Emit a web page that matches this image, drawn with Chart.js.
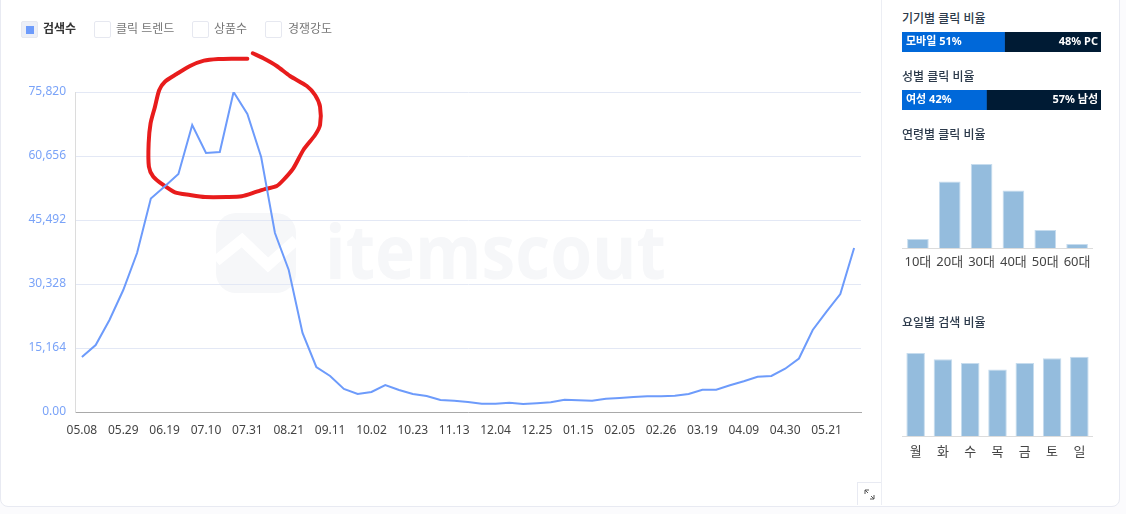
<!DOCTYPE html>
<html lang="ko">
<head>
<meta charset="utf-8">
<title>검색수 트렌드</title>
<script src="https://cdn.jsdelivr.net/npm/chart.js@4"></script>
<style>
    html, body { margin: 0; padding: 0; width: 1126px; height: 514px; overflow: hidden; background: #fbfbfd; }
    body, canvas { font-family: "Noto Sans", "Noto Sans CJK KR", sans-serif; }
    .card { position: absolute; left: 0; top: -10px; width: 1118px; height: 515px; background: #fff; border: 1px solid #e8eaf2; border-radius: 8px; }
    .divider { position: absolute; left: 881px; top: 0; width: 1px; height: 505px; background: #eceef4; }
    .mark { position: absolute; left: 0; top: 0; }
    canvas { position: absolute; }
    .box { position: absolute; top: 21px; width: 15px; height: 15px; border: 1px solid #e6e8f0; border-radius: 2px; background: #fff; }
    .box.on { background: #eceff7; }
    .box.on::after { content: ""; position: absolute; left: 4px; top: 4px; width: 8px; height: 8px; background: #6d9bfb; }
    .legend { position: absolute; top: 20px; font-size: 12px; line-height: 17px; color: #777; }
    .legend.on { color: #333; font-weight: 700; }
    .title { position: absolute; left: 902px; font-size: 12px; line-height: 16px; font-weight: 500; color: #2c3a4b; }
    .inbar { position: absolute; font-size: 11px; line-height: 20px; font-weight: 700; color: #fff; }
    .expand { position: absolute; left: 857px; top: 482px; width: 24px; height: 23px; border-top: 1px solid #e8eaf2; border-left: 1px solid #e8eaf2; box-sizing: border-box; }
</style>
</head>
<body>
<div class="card"></div>
<div class="divider"></div>

<!-- filigrane -->
<svg class="mark" width="880" height="480">
    <rect x="216" y="213" width="80" height="80" rx="20" fill="#f6f7f9"/>
    <path d="M216 261 L242 240 L268 265 L296 240" fill="none" stroke="#fff" stroke-width="11"/>
    <text x="325" y="279" font-family="Open Sans" font-weight="700" font-size="76" fill="#f6f7f9" textLength="341" lengthAdjust="spacingAndGlyphs">itemscout</text>
</svg>

<div class="box on" style="left:21px"></div><div class="legend on" style="left:43px">검색수</div>
<div class="box" style="left:94px"></div><div class="legend" style="left:116px">클릭 트렌드</div>
<div class="box" style="left:192px"></div><div class="legend" style="left:214px">상품수</div>
<div class="box" style="left:265px"></div><div class="legend" style="left:288px">경쟁강도</div>

<canvas id="chartTrend" width="880" height="480" style="left:0;top:0"></canvas>

<div class="title" style="top:11px">기기별 클릭 비율</div>
<canvas id="chartDevice" width="199" height="20" style="left:902px;top:32px"></canvas>
<div class="inbar" id="deviceLeft" style="left:906px;top:31px"></div>
<div class="inbar" id="deviceRight" style="right:28px;top:31px"></div>

<div class="title" style="top:69px">성별 클릭 비율</div>
<canvas id="chartGender" width="199" height="20" style="left:902px;top:90px"></canvas>
<div class="inbar" id="genderLeft" style="left:906px;top:89px"></div>
<div class="inbar" id="genderRight" style="right:28px;top:89px"></div>

<div class="title" style="top:127px">연령별 클릭 비율</div>
<canvas id="chartAge" width="191" height="125" style="left:902px;top:150px"></canvas>

<div class="title" style="top:315px">요일별 검색 비율</div>
<canvas id="chartDay" width="191" height="125" style="left:902px;top:340px"></canvas>

<div class="expand">
    <svg width="23" height="22"><path d="M7 7 L10 10 M7 7 h4 M7 7 v4 M16 16 L13 13 M16 16 h-4 M16 16 v-4" fill="none" stroke="#555" stroke-width="1"/></svg>
</div>

<script>
// === Données ===
const weeks = ['05.08','05.15','05.22','05.29','06.05','06.12','06.19','06.26','07.03','07.10',
    '07.17','07.24','07.31','08.07','08.14','08.21','08.28','09.04','09.11','09.18',
    '09.25','10.02','10.09','10.16','10.23','10.30','11.06','11.13','11.20','11.27',
    '12.04','12.11','12.18','12.25','01.01','01.08','01.15','01.22','01.29','02.05',
    '02.12','02.19','02.26','03.05','03.12','03.19','03.26','04.02','04.09','04.16',
    '04.23','04.30','05.07','05.14','05.21','05.28','06.04'];
const searchCounts = [13032,15875,21798,28907,37673,50587,53430,56392,68002,61367,
    61604,75820,70608,60420,42412,33645,18718,10662,8530,5450,
    4265,4739,6397,5213,4265,3791,2843,2677,2369,1967,
    1967,2204,1896,2061,2298,2914,2772,2677,3151,3317,
    3554,3720,3720,3862,4265,5284,5284,6326,7274,8364,
    8530,10260,12676,19429,23765,27959,38858];
const yTicks = [0, 15164, 30328, 45492, 60656, 75820];
const yTickLabels = ['0.00', '15,164', '30,328', '45,492', '60,656', '75,820'];

// Trait rouge dessiné à la main sur la capture (index de semaine, valeur)
const scribbleWeek = [12.0,10.98,9.89,8.85,7.84,6.87,6.02,5.61,5.3,4.98,4.84,4.86,5.18,5.9,6.75,7.84,8.93,
    10.5,11.59,12.68,13.4,14.13,14.61,15.33,16.06,16.91,17.27,17.27,16.91,16.31,15.09,14.13,13.16,12.39];
const scribbleValue = [83720,83720,83640,83240,81980,80090,78270,76300,72340,68400,63670,58120,55750,53790,52050,51420,50940,
    50940,51110,52200,52910,53550,54970,57740,62080,65630,68000,72340,75110,77240,79610,81980,83800,84990];

const deviceLabels = ['모바일', 'PC'];
const deviceShares = [51, 48];
const genderLabels = ['여성', '남성'];
const genderShares = [42, 57];

const ageLabels = ['10대', '20대', '30대', '40대', '50대', '60대'];
const ageShares = [3.8, 27.7, 35, 24, 7.5, 1.7];
const dayLabels = ['월', '화', '수', '목', '금', '토', '일'];
const dayShares = [15.7, 14.5, 13.8, 12.6, 13.8, 14.7, 15];

const fontFamily = '"Noto Sans", "Noto Sans CJK KR", sans-serif';
Chart.defaults.font.family = fontFamily;
Chart.defaults.font.size = 12;
Chart.defaults.animation = false;
Chart.defaults.responsive = false;
Chart.defaults.plugins.legend.display = false;
Chart.defaults.plugins.tooltip.enabled = false;

// === Courbe principale ===
new Chart(document.getElementById('chartTrend'), {
    type: 'line',
    data: {
        labels: weeks,
        datasets: [
            {
                label: '검색수',
                data: searchCounts,
                borderColor: '#6d9bfb',
                borderWidth: 2,
                pointRadius: 0,
                tension: 0
            },
            {
                type: 'scatter',
                label: 'scribble',
                xAxisID: 'xScribble',
                data: scribbleWeek.map((w, i) => ({ x: w, y: scribbleValue[i] })),
                showLine: true,
                borderColor: '#e81c1c',
                borderWidth: 4,
                borderCapStyle: 'round',
                pointRadius: 0,
                tension: 0.25,
                clip: false
            }
        ]
    },
    options: {
        layout: { padding: { left: 0, right: 19, top: 92, bottom: 40 } },
        scales: {
            x: {
                offset: true,
                grid: { display: false },
                border: { color: '#a9a9a9' },
                afterFit: s => { s.height = 28; },
                ticks: {
                    autoSkip: false,
                    maxRotation: 0,
                    padding: 3,
                    color: '#444',
                    callback: function (v, i) { return i % 3 === 0 ? weeks[i] : ''; }
                }
            },
            xScribble: { type: 'linear', display: false, min: -0.5, max: 56.5 },
            y: {
                min: 0,
                max: 75820,
                afterBuildTicks: s => { s.ticks = yTicks.map(v => ({ value: v })); },
                afterFit: s => { s.width = 75; },
                grid: { color: '#e3e8f5', drawTicks: false },
                border: { color: '#dcdcdc' },
                ticks: {
                    padding: 9,
                    color: '#7aa3f8',
                    callback: function (v) { return yTickLabels[yTicks.indexOf(v)]; }
                }
            }
        }
    }
});

// === Barres empilées (appareil / sexe) ===
function shareBar(id, shares) {
    new Chart(document.getElementById(id), {
        type: 'bar',
        data: {
            labels: [''],
            datasets: [
                { data: [shares[0]], backgroundColor: '#0068d9' },
                { data: [shares[1]], backgroundColor: '#001b34' }
            ]
        },
        options: {
            indexAxis: 'y',
            barPercentage: 1,
            categoryPercentage: 1,
            scales: {
                x: { stacked: true, display: false, min: 0, max: shares[0] + shares[1] },
                y: { stacked: true, display: false }
            }
        }
    });
}
shareBar('chartDevice', deviceShares);
shareBar('chartGender', genderShares);

document.getElementById('deviceLeft').textContent = deviceLabels[0] + ' ' + deviceShares[0] + '%';
document.getElementById('deviceRight').textContent = deviceShares[1] + '% ' + deviceLabels[1];
document.getElementById('genderLeft').textContent = genderLabels[0] + ' ' + genderShares[0] + '%';
document.getElementById('genderRight').textContent = genderShares[1] + '% ' + genderLabels[1];

// === Petits histogrammes (âge / jour) ===
function smallBars(id, labels, values, padTop, padBottom, labelPad) {
    new Chart(document.getElementById(id), {
        type: 'bar',
        data: {
            labels: labels,
            datasets: [{
                data: values,
                backgroundColor: '#94bcdd',
                borderColor: '#c6dcee',
                borderWidth: 1,
                barPercentage: 0.68,
                categoryPercentage: 1
            }]
        },
        options: {
            layout: { padding: { left: 0, right: 0, top: padTop, bottom: padBottom } },
            scales: {
                x: {
                    grid: { display: false },
                    border: { color: '#dcdcdc' },
                    afterFit: s => { s.height = 24; },
                    ticks: { autoSkip: false, maxRotation: 0, padding: labelPad, color: '#444', font: { size: 13 } }
                },
                y: { display: false, min: 0, max: Math.max(...values) }
            }
        }
    });
}
smallBars('chartAge', ageLabels, ageShares, 14, 3, -2);
smallBars('chartDay', dayLabels, dayShares, 13, 5, 0);
</script>
</body>
</html>
